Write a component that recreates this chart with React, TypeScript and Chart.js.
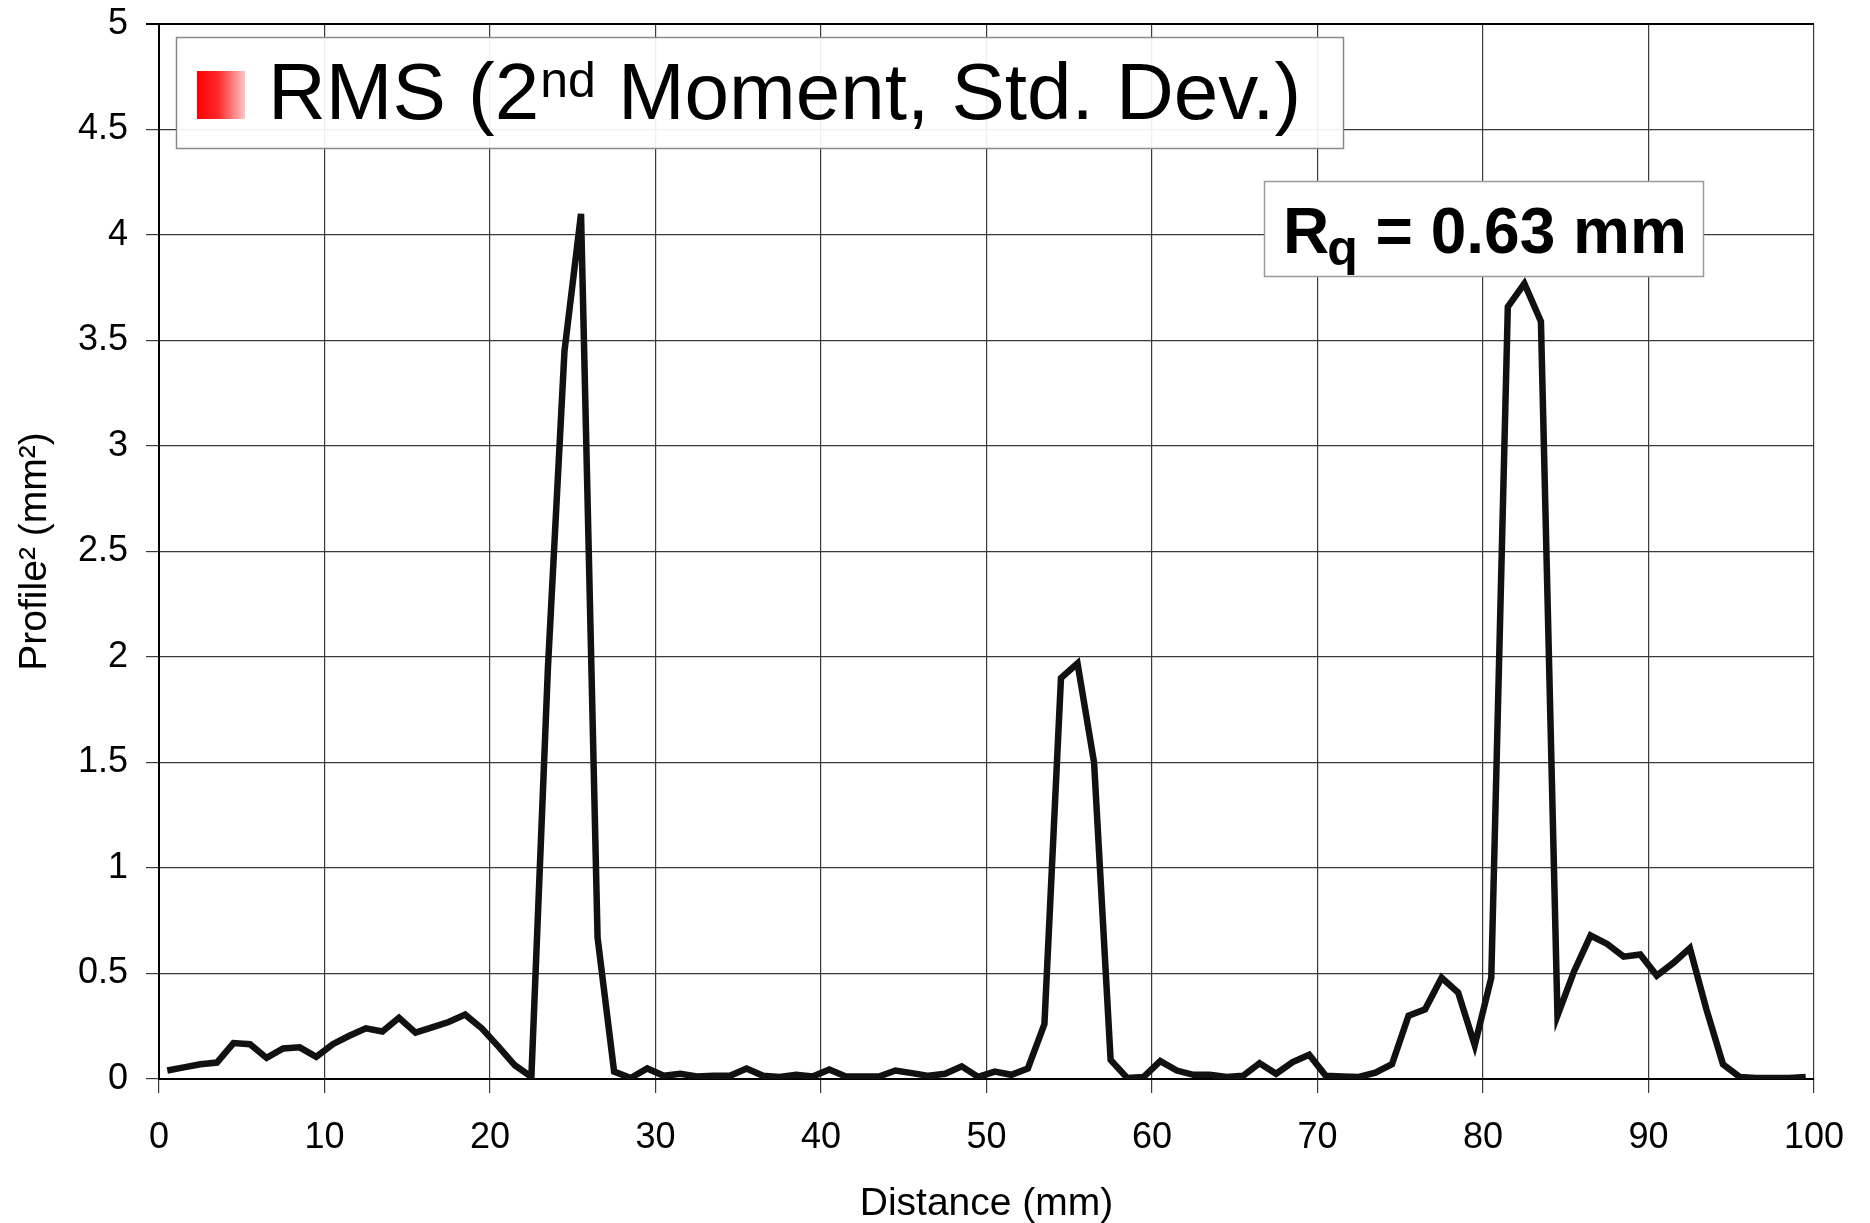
import React, { useEffect, useRef } from "react";
import { Chart, registerables } from "chart.js";

Chart.register(...registerables);

// Distance (mm) of each sample
const distanceMm = [
  0.5, 1.5, 2.5, 3.5, 4.5, 5.5, 6.5, 7.5, 8.5, 9.5,
  10.5, 11.5, 12.5, 13.5, 14.5, 15.5, 16.5, 17.5, 18.5, 19.5,
  20.5, 21.5, 22.5, 23.5, 24.5, 25.5, 26.5, 27.5, 28.5, 29.5,
  30.5, 31.5, 32.5, 33.5, 34.5, 35.5, 36.5, 37.5, 38.5, 39.5,
  40.5, 41.5, 42.5, 43.5, 44.5, 45.5, 46.5, 47.5, 48.5, 49.5,
  50.5, 51.5, 52.5, 53.5, 54.5, 55.5, 56.5, 57.5, 58.5, 59.5,
  60.5, 61.5, 62.5, 63.5, 64.5, 65.5, 66.5, 67.5, 68.5, 69.5,
  70.5, 71.5, 72.5, 73.5, 74.5, 75.5, 76.5, 77.5, 78.5, 79.5,
  80.5, 81.5, 82.5, 83.5, 84.5, 85.5, 86.5, 87.5, 88.5, 89.5,
  90.5, 91.5, 92.5, 93.5, 94.5, 95.5, 96.5, 97.5, 98.5, 99.5,
];

// Profile² (mm²)
const profileSq = [
  0.04, 0.055, 0.07, 0.078, 0.17, 0.165, 0.1, 0.145, 0.15, 0.105,
  0.165, 0.205, 0.24, 0.225, 0.29, 0.22, 0.245, 0.27, 0.305, 0.24,
  0.155, 0.065, 0.01, 1.95, 3.45, 4.1, 0.67, 0.035, 0.005, 0.05,
  0.015, 0.025, 0.012, 0.015, 0.015, 0.05, 0.015, 0.01, 0.02, 0.012,
  0.045, 0.012, 0.012, 0.012, 0.04, 0.028, 0.015, 0.025, 0.06, 0.01,
  0.035, 0.02, 0.05, 0.26, 1.9, 1.97, 1.5, 0.09, 0.005, 0.01,
  0.085, 0.04, 0.02, 0.02, 0.01, 0.015, 0.075, 0.025, 0.08, 0.115,
  0.015, 0.012, 0.01, 0.03, 0.07, 0.3, 0.33, 0.48, 0.41, 0.16,
  0.48, 3.66, 3.77, 3.59, 0.3, 0.51, 0.68, 0.64, 0.58, 0.59,
  0.49, 0.55, 0.62, 0.33, 0.07, 0.01, 0.005, 0.005, 0.005, 0.01,
];

const xAxisTitle = "Distance (mm)";
const yAxisTitle = "Profile\u00B2 (mm\u00B2)";
const legendParts = ["RMS (2", "nd", " Moment, Std. Dev.)"];
const annotationParts = ["R", "q", " = 0.63 mm"];

const FONT = '"Liberation Sans", Arial, Helvetica, sans-serif';

export default function App() {
  const ref = useRef<HTMLCanvasElement | null>(null);

  useEffect(() => {
    const canvas = ref.current;
    if (!canvas) return;

    const overlay = {
      id: "overlay",
      afterDraw(chart: any) {
        const ctx: CanvasRenderingContext2D = chart.ctx;
        ctx.save();
        // Legend box
        ctx.fillStyle = "rgba(255,255,255,0.92)";
        ctx.fillRect(176, 37, 1168, 112);
        ctx.strokeStyle = "#8a8a8a";
        ctx.lineWidth = 1.5;
        ctx.strokeRect(176.5, 37.5, 1167, 111);
        const g = ctx.createLinearGradient(197, 0, 245, 0);
        g.addColorStop(0, "#ff0000");
        g.addColorStop(0.45, "#ff2a2a");
        g.addColorStop(1, "#ffc4c4");
        ctx.fillStyle = g;
        ctx.fillRect(197, 71, 48, 48);
        ctx.fillStyle = "#000";
        ctx.textBaseline = "alphabetic";
        ctx.textAlign = "left";
        let x = 268;
        ctx.font = `80px ${FONT}`;
        ctx.fillText(legendParts[0], x, 119);
        x += ctx.measureText(legendParts[0]).width;
        ctx.font = `50px ${FONT}`;
        ctx.fillText(legendParts[1], x + 1, 97);
        x += ctx.measureText(legendParts[1]).width + 1;
        ctx.font = `80px ${FONT}`;
        ctx.fillText(legendParts[2], x, 119);

        // Rq annotation box
        ctx.fillStyle = "#fff";
        ctx.fillRect(1264, 181, 440, 96);
        ctx.strokeStyle = "#9a9a9a";
        ctx.lineWidth = 1.5;
        ctx.strokeRect(1264.5, 181.5, 439, 95);
        ctx.fillStyle = "#000";
        x = 1283;
        ctx.font = `bold 64px ${FONT}`;
        ctx.fillText(annotationParts[0], x, 253);
        x += ctx.measureText(annotationParts[0]).width - 2;
        ctx.font = `bold 50px ${FONT}`;
        ctx.fillText(annotationParts[1], x, 265);
        x += ctx.measureText(annotationParts[1]).width;
        ctx.font = `bold 64px ${FONT}`;
        ctx.fillText(annotationParts[2], x, 253);
        ctx.restore();
      },
    };

    const chart = new Chart(canvas, {
      type: "line",
      data: {
        datasets: [
          {
            label: legendParts.join(""),
            data: distanceMm.map((x, i) => ({ x, y: profileSq[i] })),
            borderColor: "#111",
            borderWidth: 6.5,
            pointRadius: 0,
            tension: 0,
            fill: false,
          },
        ],
      },
      options: {
        responsive: false,
        animation: false,
        devicePixelRatio: 1,
        layout: { padding: { top: 24, right: 56, bottom: 0, left: 0 } },
        plugins: { legend: { display: false }, tooltip: { enabled: false } },
        scales: {
          x: {
            type: "linear",
            min: 0,
            max: 100,
            ticks: {
              stepSize: 10,
              maxRotation: 0,
              padding: 23,
              color: "#000",
              font: { family: FONT, size: 36 },
              callback: (v: any) => String(Number(v)),
            },
            grid: { color: "#3a3a3a", lineWidth: 1.2, tickLength: 14 },
            border: { color: "#000", width: 2 },
            title: {
              display: true,
              text: xAxisTitle,
              color: "#000",
              font: { family: FONT, size: 39 },
              padding: { top: 0, bottom: -5 },
            },
            afterFit: (s: any) => {
              s.height = 144;
              s.paddingLeft = 0;
              s.paddingRight = 0;
            },
          },
          y: {
            type: "linear",
            min: 0,
            max: 5,
            ticks: {
              stepSize: 0.5,
              padding: 18,
              color: "#000",
              font: { family: FONT, size: 36 },
              callback: (v: any) => String(Number(v)),
            },
            grid: {
              color: (c: any) => (c.tick && c.tick.value === 5 ? "#000" : "#3a3a3a"),
              lineWidth: (c: any) => (c.tick && c.tick.value === 5 ? 2 : 1.2),
              tickLength: 13,
            },
            border: { color: "#000", width: 2 },
            title: {
              display: true,
              text: yAxisTitle,
              color: "#000",
              font: { family: FONT, size: 39 },
              padding: { top: 12, bottom: 0 },
            },
            afterFit: (s: any) => {
              s.width = 159;
              s.paddingTop = 0;
              s.paddingBottom = 0;
            },
          },
        },
      },
      plugins: [overlay],
    });

    return () => chart.destroy();
  }, []);

  return (
    <div style={{ position: "fixed", left: 0, top: 0, width: 1870, height: 1223, background: "#fff" }}>
      <canvas ref={ref} width={1870} height={1223} style={{ display: "block" }} />
    </div>
  );
}
